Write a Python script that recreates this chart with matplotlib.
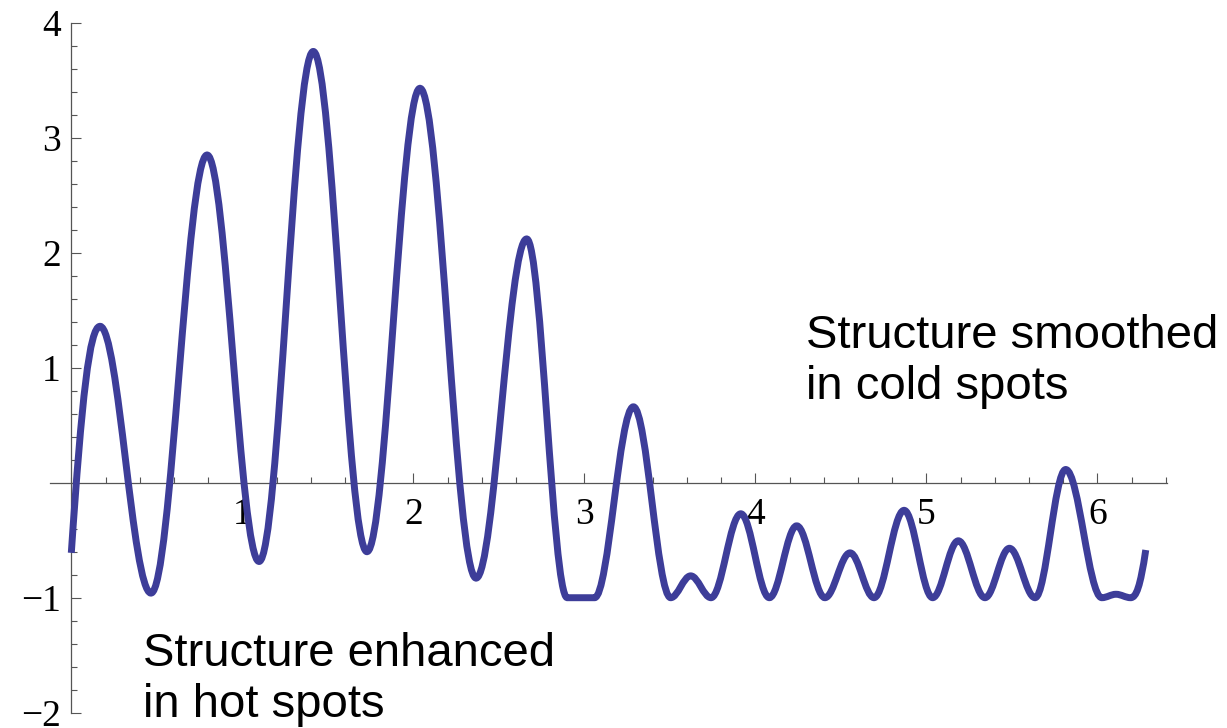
import numpy as np
import matplotlib.pyplot as plt
from matplotlib.path import Path
from matplotlib.patches import PathPatch
from matplotlib.ticker import FixedLocator, MultipleLocator

# turning points of the curve (peaks and troughs) plus the two end points
knot_x = [0.0, 0.168, 0.466, 0.794, 1.098, 1.415, 1.729, 2.039, 2.367, 2.663,
          2.900, 3.060, 3.287, 3.505, 3.622, 3.741, 3.915, 4.082, 4.242, 4.407,
          4.554, 4.694, 4.870, 5.037, 5.187, 5.343, 5.486, 5.636, 5.815, 6.026,
          6.109, 6.195, 2 * np.pi]
knot_y = [-0.61, 1.36, -0.96, 2.85, -0.685, 3.75, -0.60, 3.43, -0.83, 2.12,
          -1.0, -1.0, 0.66, -1.0, -0.81, -1.0, -0.27, -1.0, -0.375, -1.0,
          -0.61, -1.0, -0.24, -1.0, -0.505, -1.0, -0.57, -1.0, 0.115, -1.0,
          -0.97, -1.0, -0.585]
# slope at the two ends; every other knot is a turning point (slope 0)
start_slope = 22.0
end_slope = 10.0

x_ticks = [1, 2, 3, 4, 5, 6]
y_ticks = [-2, -1, 1, 2, 3, 4]

upper_note = "Structure smoothed\nin cold spots"
lower_note = "Structure enhanced\nin hot spots"

line_color = "#3d3d99"
axis_color = "#555555"

fig = plt.figure(figsize=(12.27, 7.28), dpi=100)
ax = fig.add_axes([0.0406, 0.021, 0.9107, 0.9478])

# smooth the curve with cubic bezier segments between knots
slopes = np.zeros(len(knot_x))
slopes[0] = start_slope
slopes[-1] = end_slope
verts = [(knot_x[0], knot_y[0])]
codes = [Path.MOVETO]
for i in range(len(knot_x) - 1):
    x0, y0 = knot_x[i], knot_y[i]
    x1, y1 = knot_x[i + 1], knot_y[i + 1]
    h = 0.364 * (x1 - x0)
    verts += [(x0 + h, y0 + slopes[i] * h),
              (x1 - h, y1 - slopes[i + 1] * h),
              (x1, y1)]
    codes += [Path.CURVE4] * 3
ax.add_patch(PathPatch(Path(verts, codes), fill=False, edgecolor=line_color,
                       lw=5, capstyle="butt", joinstyle="round", zorder=3))

ax.set_xlim(-0.02 * 2 * np.pi, 1.02 * 2 * np.pi)
ax.set_ylim(-2, 4)

for side in ["top", "right"]:
    ax.spines[side].set_visible(False)
for side in ["left", "bottom"]:
    ax.spines[side].set_position(("data", 0))
    ax.spines[side].set_color(axis_color)
    ax.spines[side].set_linewidth(0.9)

ax.xaxis.set_major_locator(FixedLocator(x_ticks))
ax.yaxis.set_major_locator(FixedLocator(y_ticks))
ax.xaxis.set_minor_locator(MultipleLocator(0.2))
ax.yaxis.set_minor_locator(MultipleLocator(0.2))
ax.tick_params(which="both", direction="in", color=axis_color, width=0.8)
ax.tick_params(which="major", length=7.5)
ax.tick_params(which="minor", length=4.5)
ax.tick_params(axis="x", which="major", pad=11)
ax.tick_params(axis="y", which="major", pad=7.5)
for lab in ax.get_xticklabels() + ax.get_yticklabels():
    lab.set_fontfamily("Liberation Serif")
    lab.set_fontsize(27)

# baseline of a multi-line text sits on its last line
ax.text(4.296, 0.728, upper_note, fontsize=34, family="Liberation Sans",
        ha="left", va="baseline")
ax.text(0.4175, -2.035, lower_note, fontsize=34, family="Liberation Sans",
        ha="left", va="baseline")

fig.savefig("out.png", dpi=100)
